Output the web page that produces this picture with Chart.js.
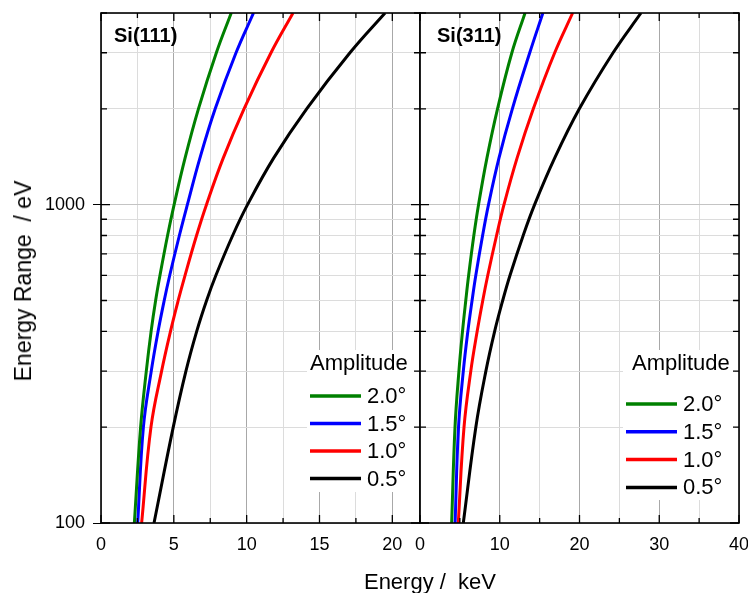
<!DOCTYPE html>
<html>
<head>
<meta charset="utf-8">
<script src="https://cdn.jsdelivr.net/npm/chart.js@4.4.0/dist/chart.umd.min.js"></script>
<style>
body { margin: 0; background: #fff; overflow: hidden; }
#wrap { position: relative; width: 748px; height: 593px; overflow: hidden; font-family: 'Liberation Sans', Arial, sans-serif; color: #000; }
#c1 { position: absolute; left: 0; top: 0; }
#c2 { position: absolute; left: 405px; top: 0; }
#xtitle { position: absolute; left: 330px; width: 200px; top: 569px; text-align: center; font-size: 22px; line-height: 26px; white-space: pre; }
#ytitle { position: absolute; left: 23px; top: 281px; transform: translate(-50%, -50%) rotate(-90deg); font-size: 23px; line-height: 26px; white-space: pre; }
</style>
</head>
<body>
<div id="wrap">
  <canvas id="c1" width="422" height="593"></canvas>
  <canvas id="c2" width="343" height="593"></canvas>
  <div id="xtitle">Energy /  keV</div>
  <div id="ytitle">Energy Range  / eV</div>
</div>
<script>
const amplitudes = ['2.0°', '1.5°', '1.0°', '0.5°'];
const colors = ['#008000', '#0000ff', '#ff0000', '#000000'];

// [energy keV, energy range eV]
const si111_20 = [[2.29,100],[2.72,200],[3.11,300],[3.44,400],[3.75,500],[4.05,600],[4.57,800],[5.02,1000],[5.77,1400],[6.69,2000],[7.92,3000],[8.94,4000]];
const si111_15 = [[2.52,100],[2.91,200],[3.45,300],[3.92,400],[4.34,500],[4.72,600],[5.38,800],[5.93,1000],[6.79,1400],[7.84,2000],[9.27,3000],[10.47,4000]];
const si111_10 = [[2.79,100],[3.43,200],[4.16,300],[4.77,400],[5.3,500],[5.77,600],[6.56,800],[7.24,1000],[8.39,1400],[9.82,2000],[11.67,3000],[13.18,4000]];
const si111_05 = [[3.64,100],[4.96,200],[5.83,300],[6.57,400],[7.25,500],[7.89,600],[9.04,800],[10.06,1000],[11.85,1400],[14.12,2000],[17.09,3000],[19.5,4000]];

const si311_20 = [[3.97,100],[4.39,200],[4.88,300],[5.33,400],[5.74,500],[6.1,600],[6.75,800],[7.34,1000],[8.39,1400],[9.72,2000],[11.52,3000],[13.17,4000]];
const si311_15 = [[4.4,100],[4.83,200],[5.43,300],[6.0,400],[6.53,500],[7.0,600],[7.85,800],[8.59,1000],[9.9,1400],[11.58,2000],[13.76,3000],[15.41,4000]];
const si311_10 = [[4.8,100],[5.52,200],[6.37,300],[7.17,400],[7.87,500],[8.5,600],[9.6,800],[10.53,1000],[12.17,1400],[14.21,2000],[16.89,3000],[19.14,4000]];
const si311_05 = [[5.43,100],[7.0,200],[8.26,300],[9.36,400],[10.37,500],[11.29,600],[12.94,800],[14.37,1000],[16.88,1400],[19.98,2000],[24.21,3000],[27.71,4000]];

const yTicks = [100,200,300,400,500,600,700,800,900,1000,2000,3000,4000];
const yLabels = [100, 1000];
const xTicks111 = [0,2.5,5,7.5,10,12.5,15,17.5,20];
const xTicks311 = [0,5,10,15,20,25,30,35,40];

const family = "'Liberation Sans', Arial, sans-serif";

function makeData(curves) {
  return {
    datasets: curves.map((pts, i) => ({
      label: amplitudes[i],
      data: pts.map(p => ({ x: p[0], y: p[1] })),
      borderColor: colors[i],
      borderWidth: 3,
      pointRadius: 0,
      fill: false,
      tension: 0.4
    }))
  };
}

const isMajorY = v => yLabels.indexOf(v) >= 0;

// frame, inward ticks, panel label and legend box
const framePlugin = {
  id: 'frame',
  afterDatasetsDraw(chart, args, o) {
    const ctx = chart.ctx, a = chart.chartArea;
    ctx.save();
    ctx.fillStyle = '#000';
    ctx.font = 'bold 20px ' + family;
    ctx.textBaseline = 'middle';
    ctx.fillText(o.label, a.left + o.labelX, a.top + 23);

    const lx = a.left + o.legX, ly = a.top + o.legY;
    ctx.fillStyle = '#fff';
    ctx.fillRect(lx - 3, ly - 14, o.legW, o.legH);
    ctx.fillStyle = '#000';
    ctx.font = '22px ' + family;
    ctx.fillText('Amplitude', lx + o.titleDx, ly);
    chart.data.datasets.forEach((ds, i) => {
      const yy = ly + o.firstDy + i * o.step;
      ctx.strokeStyle = ds.borderColor;
      ctx.lineWidth = 3.5;
      ctx.beginPath();
      ctx.moveTo(lx, yy);
      ctx.lineTo(lx + 51, yy);
      ctx.stroke();
      ctx.fillText(ds.label, lx + 57, yy + 1);
    });
    ctx.restore();
  },
  afterDraw(chart, args, o) {
    const ctx = chart.ctx, a = chart.chartArea;
    const xs = chart.scales.x, ys = chart.scales.y;
    ctx.save();
    ctx.strokeStyle = '#000';
    ctx.lineWidth = 1.3;
    ctx.beginPath();
    xs.ticks.forEach(t => {
      const p = xs.getPixelForValue(t.value);
      const len = t.value % o.xMajor === 0 ? 8 : 5;
      ctx.moveTo(p, a.bottom); ctx.lineTo(p, a.bottom - len);
      ctx.moveTo(p, a.top); ctx.lineTo(p, a.top + len);
    });
    ys.ticks.forEach(t => {
      const p = ys.getPixelForValue(t.value);
      const len = isMajorY(t.value) ? 9 : 6;
      ctx.moveTo(a.left, p); ctx.lineTo(a.left + len, p);
      ctx.moveTo(a.right, p); ctx.lineTo(a.right - len, p);
    });
    ctx.stroke();
    ctx.lineWidth = 1.6;
    ctx.strokeRect(a.left, a.top, a.right - a.left, a.bottom - a.top);
    ctx.restore();
  }
};

function xScale(max, ticks, major) {
  return {
    type: 'linear', min: 0, max: max,
    afterBuildTicks: s => { s.ticks = ticks.map(v => ({ value: v })); },
    afterFit: s => { s.height = 70; s.paddingLeft = 0; s.paddingRight = 0; },
    grid: {
      color: c => (c.tick && c.tick.value % major === 0) ? '#a8a8a8' : '#dcdcdc',
      drawTicks: false
    },
    border: { display: false },
    ticks: {
      padding: 11, color: '#000', autoSkip: false, maxRotation: 0,
      font: { family: family, size: 18 },
      callback: v => (v % major === 0 ? String(v) : '')
    }
  };
}

function yScale(showLabels) {
  return {
    type: 'logarithmic', min: 100, max: 4000,
    afterBuildTicks: s => { s.ticks = yTicks.map(v => ({ value: v })); },
    afterFit: s => { s.width = showLabels ? 101 : 0; s.paddingTop = 0; s.paddingBottom = 0; },
    grid: {
      color: c => (c.tick && isMajorY(c.tick.value)) ? '#c4c4c4' : '#dcdcdc',
      drawTicks: showLabels,
      tickLength: 8,
      tickColor: c => (c.tick && isMajorY(c.tick.value)) ? '#000' : 'rgba(0,0,0,0)'
    },
    border: { display: false },
    ticks: {
      display: showLabels,
      padding: 8, color: '#000', autoSkip: false,
      font: { family: family, size: 18 },
      callback: v => (isMajorY(v) ? String(v) : '')
    }
  };
}

new Chart(document.getElementById('c1'), {
  type: 'line',
  data: makeData([si111_20, si111_15, si111_10, si111_05]),
  options: {
    responsive: false,
    animation: false,
    layout: { padding: { top: 13, right: 2, bottom: 0, left: 0 } },
    scales: { x: xScale(21.9, xTicks111, 5), y: yScale(true) },
    plugins: {
      legend: { display: false },
      tooltip: { enabled: false },
      frame: { label: 'Si(111)', labelX: 13, legX: 209, legY: 351, legW: 108, legH: 142,
               titleDx: 0, firstDy: 32, step: 27.5, xMajor: 5 }
    }
  },
  plugins: [framePlugin]
});

new Chart(document.getElementById('c2'), {
  type: 'line',
  data: makeData([si311_20, si311_15, si311_10, si311_05]),
  options: {
    responsive: false,
    animation: false,
    layout: { padding: { top: 13, right: 9, bottom: 0, left: 15 } },
    scales: { x: xScale(40, xTicks311, 10), y: yScale(false) },
    plugins: {
      legend: { display: false },
      tooltip: { enabled: false },
      frame: { label: 'Si(311)', labelX: 17, legX: 206, legY: 351, legW: 112, legH: 150,
               titleDx: 6, firstDy: 40, step: 27.8, xMajor: 10 }
    }
  },
  plugins: [framePlugin]
});
</script>
</body>
</html>
